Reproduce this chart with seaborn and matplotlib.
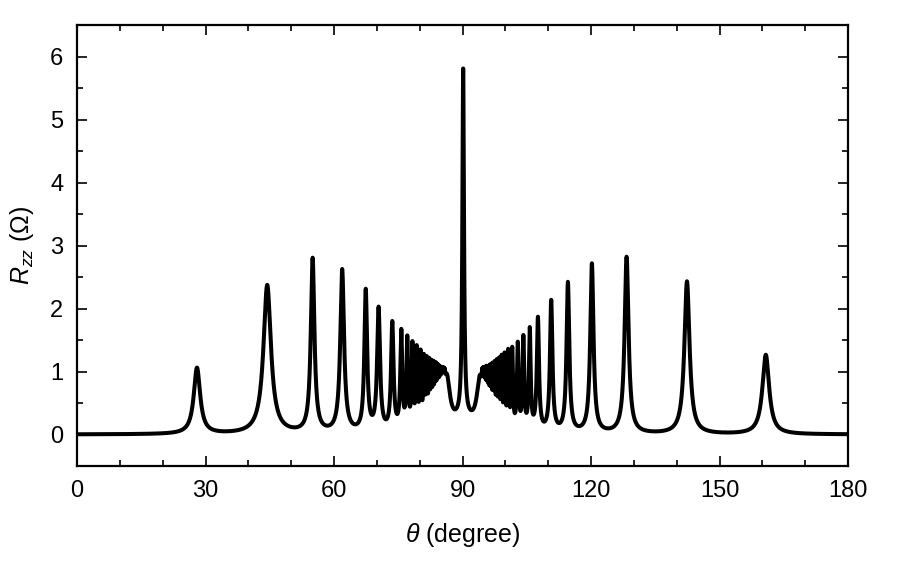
import numpy as np
import pandas as pd
import matplotlib
matplotlib.use("Agg")
import matplotlib.pyplot as plt
from matplotlib.ticker import MultipleLocator
import seaborn as sns

# ---- data (Lorentzian features of R_zz(theta)) ----
# peak centre (degree)
peak_theta = [28.0, 44.4, 55.0, 61.9, 67.4, 70.4, 73.6, 75.7, 77.1, 78.3, 79.3, 80.2,
              81.0, 81.63, 82.2, 82.69, 83.13, 83.52, 83.86, 84.17, 84.45, 84.71, 84.94,
              85.16, 85.35, 85.53, 85.70, 85.86,
              86.3, 90.15, 90.15, 94.1,
              94.57, 94.74, 94.92, 95.12, 95.33, 95.56, 95.81, 96.09, 96.40, 96.73, 97.11,
              97.52, 98.0, 98.53, 99.13, 99.83, 100.65, 101.6, 102.9, 104.2, 105.7, 107.6,
              110.7, 114.6, 120.2, 128.3, 142.4, 160.8]
# peak amplitude (Ohm)
peak_height = [1.05, 2.36, 2.76, 2.58, 2.23, 1.94, 1.70, 1.535, 1.40, 1.295, 1.21, 1.13,
               1.025, 0.958, 0.903, 0.842, 0.795, 0.735, 0.685, 0.629, 0.572, 0.51, 0.448,
               0.383, 0.319, 0.259, 0.198, 0.15,
               0.80, 0.20, 5.52, 0.80,
               0.21, 0.27, 0.35, 0.417, 0.486, 0.548, 0.597, 0.649, 0.694, 0.746, 0.80,
               0.852, 0.91, 0.966, 1.036, 1.10, 1.175, 1.237, 1.335, 1.44, 1.58, 1.78,
               2.07, 2.37, 2.68, 2.80, 2.42, 1.26]
# peak half width (degree)
peak_width = [0.90, 1.05, 0.50, 0.52, 0.38, 0.40, 0.34, 0.27, 0.23, 0.215, 0.20, 0.195,
              0.18, 0.163, 0.157, 0.15, 0.143, 0.134, 0.128, 0.123, 0.12, 0.116, 0.114,
              0.11, 0.11, 0.11, 0.11, 0.105,
              0.90, 3.0, 0.22, 0.90,
              0.08, 0.082, 0.085, 0.087, 0.09, 0.095, 0.104, 0.11, 0.113, 0.117, 0.125,
              0.132, 0.137, 0.145, 0.152, 0.164, 0.173, 0.20, 0.22, 0.22, 0.24, 0.30,
              0.34, 0.38, 0.45, 0.55, 0.72, 0.95]

x_ticks = [0, 30, 60, 90, 120, 150, 180]
y_ticks = [0, 1, 2, 3, 4, 5, 6]

theta = np.arange(0.0, 180.0001, 0.02)
c = np.array(peak_theta)[:, None]
h = np.array(peak_height)[:, None]
w = np.array(peak_width)[:, None]
R = (h / (1.0 + ((theta[None, :] - c) / w) ** 2)).sum(axis=0)
df = pd.DataFrame({"theta": theta, "R": R})

# ---- style ----
sns.set_theme(style="ticks")
plt.rcParams["font.family"] = ["Liberation Sans", "DejaVu Sans"]
plt.rcParams["mathtext.fontset"] = "custom"
plt.rcParams["mathtext.rm"] = "Liberation Sans"
plt.rcParams["mathtext.it"] = "Liberation Sans:italic"
plt.rcParams["text.color"] = "black"
plt.rcParams["axes.labelcolor"] = "black"
plt.rcParams["xtick.color"] = "black"
plt.rcParams["ytick.color"] = "black"

fig = plt.figure(figsize=(8.99, 5.61), dpi=100)
ax = fig.add_axes([0.0857, 0.1693, 0.8576, 0.7861])

sns.lineplot(data=df, x="theta", y="R", color="black", linewidth=2.9,
             estimator=None, sort=False, ax=ax)

ax.set_xlim(0, 180)
ax.set_ylim(-0.5, 6.5)
ax.set_xticks(x_ticks)
ax.set_yticks(y_ticks)
ax.xaxis.set_minor_locator(MultipleLocator(10))
ax.yaxis.set_minor_locator(MultipleLocator(0.5))
ax.tick_params(which="both", direction="in", top=True, right=True,
               labelsize=17, width=1.2, colors="black")
ax.tick_params(which="major", length=7, pad=10)
ax.tick_params(which="minor", length=4)
for s in ax.spines.values():
    s.set_linewidth(1.6)
    s.set_color("black")

ax.set_xlabel(r"$\theta$ (degree)", fontsize=18, labelpad=14)
ax.set_ylabel(r"$R_{zz}$ ($\Omega$)", fontsize=18, labelpad=10)

fig.savefig("out.png", dpi=100)
